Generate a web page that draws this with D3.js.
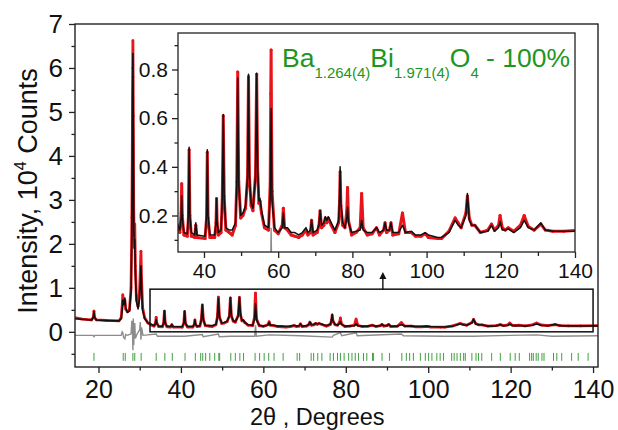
<!DOCTYPE html>
<html>
<head>
<meta charset="utf-8">
<script src="https://cdn.jsdelivr.net/npm/d3@7"></script>
<style>
  body { margin: 0; background: #fff; }
  svg { display: block; font-family: "Liberation Sans", Arial, sans-serif; }
</style>
</head>
<body>
<svg id="chart" width="618" height="430"></svg>
<script>
// Rietveld refinement of Ba1.264Bi1.971O4: intensities in 10^4 counts vs 2θ (degrees)

// calculated profile (black line)
const calcProfile = [
  [14.0,0.30],[16.0,0.285],[18.3,0.27],[18.75,0.33],[18.9,0.46],[19.05,0.33],[19.5,0.27],[22.0,0.255],
  [25.0,0.25],[25.5,0.30],[25.75,0.48],[25.9,0.72],[26.1,0.62],[26.25,0.70],[26.4,0.77],[26.6,0.55],
  [27.0,0.44],[27.5,0.47],[27.9,0.9],[28.1,2.2],[28.25,4.8],[28.35,6.33],[28.45,4.6],[28.55,2.6],
  [28.65,1.9],[28.8,2.1],[28.95,1.3],[29.2,0.7],[29.6,0.52],[29.95,0.75],[30.15,1.1],[30.3,1.5],
  [30.45,1.0],[30.7,0.5],[31.2,0.3],[32.0,0.2],[33.0,0.16],
  [33.5,0.14],[33.85,0.19],[34.0,0.28],[34.15,0.19],[34.6,0.13],[35.5,0.125],[35.8,0.2],[36.0,0.48],
  [36.2,0.2],[36.6,0.13],[37.5,0.12],[37.8,0.17],[38.1,0.12],[40.3,0.115],[40.7,0.2],[40.9,0.47],
  [41.1,0.2],[41.6,0.12],[42.9,0.12],[43.25,0.17],[43.4,0.27],[43.55,0.17],[43.9,0.13],[44.6,0.14],
  [44.95,0.27],[45.2,0.615],[45.45,0.27],[45.9,0.15],[46.8,0.14],[47.6,0.14],[48.5,0.17],[48.85,0.32],
  [49.1,0.765],[49.35,0.33],[49.9,0.2],[50.5,0.21],[51.2,0.24],[51.75,0.36],[52.0,0.78],[52.25,0.36],
  [52.7,0.25],[53.2,0.23],[53.9,0.36],[54.2,0.785],[54.45,0.4],[54.8,0.26],[55.1,0.27],[55.5,0.22],
  [56.3,0.16],[57.4,0.15],[57.85,0.28],[58.1,0.64],[58.35,0.26],[59.0,0.15],[60.0,0.13],[61.1,0.15],
  [61.4,0.21],[61.7,0.15],[62.5,0.15],[63.5,0.13],[64.5,0.13],[65.5,0.12],[66.5,0.13],[67.5,0.15],
  [68.0,0.13],[68.7,0.14],[69.0,0.18],[69.4,0.13],[70.5,0.14],[71.0,0.16],[71.3,0.22],[71.7,0.16],
  [72.3,0.17],[72.7,0.195],[73.1,0.18],[73.5,0.195],[74.3,0.17],[75.3,0.14],[76.3,0.18],[76.55,0.28],
  [76.7,0.40],[76.9,0.25],[77.4,0.17],[78.0,0.15],[78.5,0.19],[78.7,0.235],[78.95,0.17],[79.8,0.13],
  [81.0,0.135],[82.1,0.14],[82.5,0.18],[82.9,0.14],[84.0,0.13],[85.3,0.13],[86.5,0.15],[87.3,0.13],
  [88.4,0.14],[88.8,0.17],[89.2,0.14],[90.0,0.14],[90.4,0.17],[90.9,0.13],[92.5,0.13],[93.5,0.16],
  [94.3,0.13],[95.9,0.135],[97.0,0.12],[98.5,0.12],[99.6,0.13],[100.5,0.12],[103.0,0.11],[104.0,0.11],
  [106.0,0.13],[107.7,0.18],[108.5,0.16],[109.3,0.15],[110.6,0.2],[111.0,0.29],[111.5,0.18],[112.2,0.16],
  [113.0,0.16],[114.5,0.13],[116.5,0.135],[117.5,0.16],[118.3,0.135],[119.4,0.15],[119.8,0.175],[120.4,0.14],
  [121.2,0.14],[122.0,0.145],[123.5,0.13],[125.3,0.15],[126.3,0.18],[127.4,0.15],[129.0,0.14],[130.8,0.17],
  [132.0,0.14],[134.0,0.135],[137.0,0.135],[141.5,0.135]
];

// observed counts (red points)
const obsProfile = [
  [14.0,0.33],[16.0,0.29],[18.3,0.27],[18.75,0.33],[18.9,0.47],[19.05,0.32],[19.5,0.27],[22.0,0.26],
  [25.0,0.25],[25.5,0.32],[25.75,0.6],[25.9,0.84],[26.1,0.66],[26.25,0.68],[26.4,0.72],[26.6,0.52],
  [27.0,0.46],[27.5,0.49],[27.9,1.0],[28.1,2.6],[28.2,4.0],[28.25,5.3],[28.3,6.0],[28.35,6.62],
  [28.4,5.8],[28.45,4.9],[28.55,2.8],[28.65,2.2],[28.8,2.45],[28.95,1.5],[29.2,0.75],[29.6,0.58],
  [29.95,0.9],[30.15,1.4],[30.3,1.83],[30.45,1.2],[30.7,0.55],[31.2,0.32],[32.0,0.2],[33.0,0.15],
  [33.5,0.13],[33.85,0.21],[34.0,0.33],[34.15,0.2],[34.6,0.12],[35.5,0.115],[35.8,0.19],[36.0,0.47],
  [36.2,0.2],[36.6,0.115],[37.5,0.11],[37.8,0.16],[38.1,0.11],[40.3,0.105],[40.7,0.19],[40.9,0.46],
  [41.1,0.19],[41.6,0.11],[42.9,0.11],[43.25,0.17],[43.4,0.27],[43.55,0.17],[43.9,0.12],[44.6,0.13],
  [44.95,0.28],[45.2,0.61],[45.45,0.28],[45.9,0.14],[46.8,0.13],[47.6,0.12],[48.5,0.16],[48.85,0.34],
  [49.1,0.79],[49.35,0.34],[49.9,0.19],[50.5,0.2],[51.2,0.23],[51.75,0.36],[52.0,0.77],[52.25,0.36],
  [52.7,0.24],[53.2,0.22],[53.9,0.37],[54.2,0.78],[54.45,0.4],[54.8,0.25],[55.1,0.26],[55.5,0.21],
  [56.3,0.15],[57.4,0.14],[57.85,0.33],[58.0,0.7],[58.1,0.88],[58.2,0.6],[58.35,0.3],[59.0,0.14],
  [60.0,0.125],[61.1,0.16],[61.4,0.23],[61.7,0.15],[62.5,0.14],[63.5,0.12],[64.5,0.115],[65.5,0.11],
  [66.5,0.12],[67.5,0.14],[68.0,0.12],[68.7,0.13],[69.0,0.18],[69.4,0.12],[70.5,0.13],[71.0,0.16],
  [71.3,0.22],[71.7,0.15],[72.3,0.16],[72.7,0.19],[73.1,0.17],[73.5,0.19],[74.3,0.16],[75.3,0.13],
  [76.3,0.17],[76.55,0.26],[76.7,0.38],[76.9,0.24],[77.4,0.16],[78.0,0.15],[78.5,0.22],[78.7,0.315],
  [78.95,0.18],[79.8,0.12],[81.0,0.13],[82.1,0.15],[82.5,0.29],[82.9,0.15],[84.0,0.12],[85.3,0.125],
  [86.5,0.15],[87.3,0.12],[88.4,0.14],[88.8,0.17],[89.2,0.13],[90.0,0.14],[90.4,0.17],[90.9,0.12],
  [92.5,0.125],[93.5,0.21],[94.3,0.13],[95.9,0.13],[97.0,0.115],[98.5,0.115],[99.6,0.125],[100.5,0.11],
  [103.0,0.105],[104.0,0.105],[106.0,0.135],[107.7,0.19],[108.5,0.17],[109.3,0.15],[110.6,0.21],[111.0,0.28],
  [111.5,0.19],[112.2,0.16],[113.0,0.16],[114.5,0.13],[116.5,0.14],[117.5,0.165],[118.3,0.14],[119.4,0.16],
  [119.8,0.20],[120.4,0.15],[121.2,0.14],[122.0,0.15],[123.5,0.135],[125.3,0.16],[126.3,0.20],[127.4,0.155],
  [129.0,0.14],[130.8,0.165],[132.0,0.14],[134.0,0.135],[137.0,0.135],[141.5,0.14]
];

// observed minus calculated, offset below the pattern (grey line)
const diffProfile = [
  [14.0,-0.08],[18.7,-0.08],[18.9,-0.11],[19.1,-0.08],[25.5,-0.08],[25.75,0.0],[25.9,-0.02],[26.1,-0.13],
  [26.4,-0.16],[26.6,-0.06],[27.0,-0.08],[27.9,-0.05],[28.1,0.25],[28.25,0.1],[28.35,-0.42],[28.45,0.3],
  [28.55,-0.3],[28.65,0.05],[28.8,0.2],[28.95,-0.15],[29.3,-0.06],[30.0,0.05],[30.15,0.22],[30.3,-0.18],
  [30.45,0.1],[30.8,-0.08],[34.0,-0.05],[34.3,-0.1],[36.0,-0.1],[40.9,-0.1],[45.2,-0.06],[45.4,-0.11],
  [49.1,-0.05],[49.3,-0.11],[52.0,-0.1],[54.2,-0.1],[57.9,-0.1],[58.1,0.15],[58.3,-0.1],[61.4,-0.07],
  [69.0,-0.09],[76.7,-0.12],[77.0,-0.08],[78.7,-0.02],[79.0,-0.09],[82.5,-0.02],[82.8,-0.09],[93.5,-0.05],
  [94.0,-0.09],[104.0,-0.1],[111.0,-0.1],[120.0,-0.08],[126.3,-0.07],[130.0,-0.1],[141.5,-0.09]
];

// Bragg reflection positions (green markers)
const braggPositions = [
  18.9,26.0,26.5,28.35,28.8,30.35,34.0,36.1,37.9,41.0,43.5,44.8,45.3,46.0,47.0,48.2,49.2,49.4,
  52.1,53.2,54.3,55.2,58.0,59.1,60.2,61.3,62.6,64.8,68.2,68.8,71.6,72.2,73.2,74.2,76.2,77.0,78.0,
  78.7,79.6,80.7,81.5,82.3,83.1,84.3,85.1,86.5,86.7,88.8,90.6,93.6,94.7,95.5,96.4,98.1,99.3,100.1,
  100.9,102.1,102.9,103.7,105.7,106.3,107.0,107.8,108.6,109.0,110.6,111.6,112.2,113.0,115.4,117.5,
  119.9,121.1,122.1,124.6,125.1,125.5,126.2,126.7,127.6,128.1,130.4,131.2,132.4,134.8,136.4,138.8
];
const braggRow = [-0.48, -0.66];

// axes
const mainXTicks = [20, 40, 60, 80, 100, 120, 140];
const mainXMinor = [30, 50, 70, 90, 110, 130];
const mainYTicks = [0, 1, 2, 3, 4, 5, 6, 7];
const mainYMinor = [-0.5, 0.5, 1.5, 2.5, 3.5, 4.5, 5.5, 6.5];
const insetXTicks = [40, 60, 80, 100, 120, 140];
const insetXMinor = [50, 70, 90, 110, 130];
const insetYTicks = [0.2, 0.4, 0.6, 0.8];
const insetYMinor = [0.1, 0.3, 0.5, 0.7, 0.9];

// magnified window and its marker arrow
const zoomRange2theta = [32.5, 140];
const zoomRangeI = [0.0, 0.97];
const arrowAt = [89, 0.97, 1.36];

const svg = d3.select("#chart");
const red = "#e8141b", green = "#1e961e", grey = "#8c8c8c";

// ---------- main plot ----------
const M = { left: 75, right: 598, top: 24, bottom: 367 };
const x = d3.scaleLinear().domain([14.3, 141.2]).range([M.left, M.right]);
const y = d3.scaleLinear().domain([-0.8, 7]).range([M.bottom, M.top]);

svg.append("clipPath").attr("id", "clipMain").append("rect")
  .attr("x", M.left).attr("y", M.top).attr("width", M.right - M.left).attr("height", M.bottom - M.top);

const main = svg.append("g").attr("clip-path", "url(#clipMain)");
const lineMain = d3.line().x(d => x(d[0])).y(d => y(d[1]));

main.append("path").datum(diffProfile).attr("d", lineMain)
  .attr("fill", "none").attr("stroke", grey).attr("stroke-width", 1.4);

main.append("g").selectAll("line").data(braggPositions).join("line")
  .attr("x1", d => x(d)).attr("x2", d => x(d))
  .attr("y1", y(braggRow[0])).attr("y2", y(braggRow[1]))
  .attr("stroke", "#3f9f3f").attr("stroke-width", 1);

main.append("path").datum(obsProfile).attr("d", lineMain)
  .attr("fill", "none").attr("stroke", red).attr("stroke-width", 2.8).attr("stroke-linejoin", "round");
main.append("g").selectAll("circle").data(obsProfile).join("circle")
  .attr("cx", d => x(d[0])).attr("cy", d => y(d[1])).attr("r", 1.3).attr("fill", red);

main.append("path").datum(calcProfile).attr("d", lineMain)
  .attr("fill", "none").attr("stroke", "#111").attr("stroke-width", 1.6).attr("stroke-linejoin", "round");

// magnified window
svg.append("rect")
  .attr("x", x(zoomRange2theta[0])).attr("y", y(zoomRangeI[1]))
  .attr("width", x(zoomRange2theta[1]) - x(zoomRange2theta[0]))
  .attr("height", y(zoomRangeI[0]) - y(zoomRangeI[1]))
  .attr("fill", "none").attr("stroke", "#111").attr("stroke-width", 1.5);

svg.append("line")
  .attr("x1", x(arrowAt[0])).attr("x2", x(arrowAt[0]))
  .attr("y1", y(arrowAt[1])).attr("y2", y(arrowAt[2]) + 5)
  .attr("stroke", "#111").attr("stroke-width", 1.4);
svg.append("path")
  .attr("d", `M${x(arrowAt[0])},${y(arrowAt[2])} l-3.5,7 l7,0 z`)
  .attr("fill", "#111");

// main axes
function styleAxis(g, size) {
  g.selectAll(".domain").remove();
  g.selectAll("line").attr("stroke", "#222").attr("stroke-width", 1.3);
  g.selectAll("text").attr("font-size", size).attr("fill", "#111").attr("font-family", "Liberation Sans, Arial, sans-serif");
}
const gx = svg.append("g").attr("transform", `translate(0,${M.bottom})`)
  .call(d3.axisBottom(x).tickValues(mainXTicks).tickSize(6).tickPadding(7).tickFormat(d3.format("d")));
styleAxis(gx, 25);
const gxm = svg.append("g").attr("transform", `translate(0,${M.bottom})`)
  .call(d3.axisBottom(x).tickValues(mainXMinor).tickSize(3.5).tickFormat(""));
styleAxis(gxm, 25);
const gy = svg.append("g").attr("transform", `translate(${M.left},0)`)
  .call(d3.axisLeft(y).tickValues(mainYTicks).tickSize(6).tickPadding(6).tickFormat(d3.format("d")));
styleAxis(gy, 26);
const gym = svg.append("g").attr("transform", `translate(${M.left},0)`)
  .call(d3.axisLeft(y).tickValues(mainYMinor).tickSize(3.5).tickFormat(""));
styleAxis(gym, 26);

svg.append("rect")
  .attr("x", M.left).attr("y", M.top).attr("width", M.right - M.left).attr("height", M.bottom - M.top)
  .attr("fill", "none").attr("stroke", "#222").attr("stroke-width", 1.4);

svg.append("text")
  .attr("x", 250).attr("y", 424.5).attr("font-size", 23.5).attr("fill", "#111")
  .text("2θ , Degrees");

const yt = svg.append("text")
  .attr("transform", `translate(37,191) rotate(-90)`)
  .attr("text-anchor", "middle").attr("font-size", 27).attr("fill", "#111");
yt.append("tspan").text("Intensity, 10");
yt.append("tspan").attr("dy", -11).attr("font-size", 16).text("4");
yt.append("tspan").attr("dy", 11).text(" Counts");

// ---------- inset ----------
const I = { left: 178, right: 575, top: 33, bottom: 252 };
const xi = d3.scaleLinear().domain([33, 140]).range([I.left, I.right]);
const yi = d3.scaleLinear().domain([0.05, 0.95]).range([I.bottom, I.top]);

svg.append("rect")
  .attr("x", I.left).attr("y", I.top).attr("width", I.right - I.left).attr("height", I.bottom - I.top)
  .attr("fill", "#fff");
svg.append("clipPath").attr("id", "clipInset").append("rect")
  .attr("x", I.left).attr("y", I.top).attr("width", I.right - I.left).attr("height", I.bottom - I.top);

const inset = svg.append("g").attr("clip-path", "url(#clipInset)");
const lineInset = d3.line().x(d => xi(d[0])).y(d => yi(d[1]));

inset.append("path").datum(diffProfile).attr("d", lineInset)
  .attr("fill", "none").attr("stroke", grey).attr("stroke-width", 1.4);
inset.append("path").datum(obsProfile).attr("d", lineInset)
  .attr("fill", "none").attr("stroke", red).attr("stroke-width", 3).attr("stroke-linejoin", "round");
inset.append("g").selectAll("circle").data(obsProfile).join("circle")
  .attr("cx", d => xi(d[0])).attr("cy", d => yi(d[1])).attr("r", 1.5).attr("fill", red);
inset.append("path").datum(calcProfile).attr("d", lineInset)
  .attr("fill", "none").attr("stroke", "#111").attr("stroke-width", 1.5).attr("stroke-linejoin", "round");

const gxi = svg.append("g").attr("transform", `translate(0,${I.bottom})`)
  .call(d3.axisBottom(xi).tickValues(insetXTicks).tickSize(6).tickPadding(5).tickFormat(d3.format("d")));
styleAxis(gxi, 21);
const gxim = svg.append("g").attr("transform", `translate(0,${I.bottom})`)
  .call(d3.axisBottom(xi).tickValues(insetXMinor).tickSize(4).tickFormat(""));
styleAxis(gxim, 21);
const gyi = svg.append("g").attr("transform", `translate(${I.left},0)`)
  .call(d3.axisLeft(yi).tickValues(insetYTicks).tickSize(6).tickPadding(4).tickFormat(d3.format(".1f")));
styleAxis(gyi, 21);
const gyim = svg.append("g").attr("transform", `translate(${I.left},0)`)
  .call(d3.axisLeft(yi).tickValues(insetYMinor).tickSize(3.5).tickFormat(""));
styleAxis(gyim, 21);

svg.append("rect")
  .attr("x", I.left).attr("y", I.top).attr("width", I.right - I.left).attr("height", I.bottom - I.top)
  .attr("fill", "none").attr("stroke", "#222").attr("stroke-width", 1.3);

// phase label
const title = svg.append("text").attr("x", 282).attr("y", 67).attr("font-size", 26.5).attr("fill", green);
title.append("tspan").text("Ba");
title.append("tspan").attr("dy", 11).attr("font-size", 15).text("1.264(4)");
title.append("tspan").attr("dy", -11).text("Bi");
title.append("tspan").attr("dy", 11).attr("font-size", 15).text("1.971(4)");
title.append("tspan").attr("dy", -11).text("O");
title.append("tspan").attr("dy", 11).attr("font-size", 15).text("4");
title.append("tspan").attr("dy", -11).text(" - 100%");
</script>
</body>
</html>
